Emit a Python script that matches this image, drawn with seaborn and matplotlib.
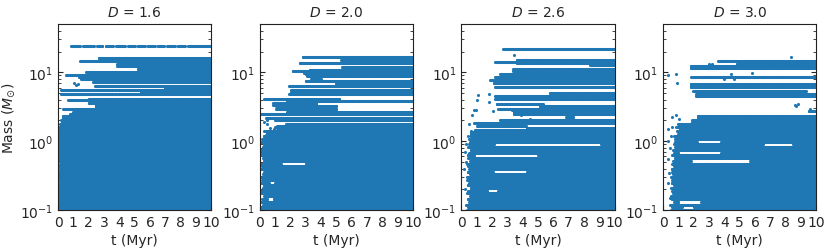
import numpy as np
import pandas as pd
import matplotlib
matplotlib.use("Agg")
import matplotlib.pyplot as plt
import seaborn as sns

# fractal dimension of each run (one panel per run)
panel_D = [1.6, 2.0, 2.6, 3.0]

# simulation snapshot times (Myr)
snap_times = np.round(np.arange(0, 10.0001, 0.05), 3)

# masses of the crowded low-mass stars (Msun), same ladder in every run
low_mass = [0.10, 0.11, 0.12, 0.13, 0.145, 0.16, 0.175, 0.19, 0.21, 0.23,
            0.25, 0.275, 0.30, 0.33, 0.36, 0.40, 0.43, 0.47, 0.52, 0.57,
            0.62, 0.68, 0.75, 0.82, 0.90, 0.98, 1.07, 1.17]

# formation time of each of those low-mass stars, per run
low_tform_16 = [0, 0, 0, 0.05, 0, 0, 0, 0, 0, 0, 0.1, 0, 0, 0, 0, 0.1,
                0, 0.15, 0, 0, 0, 0.05, 0, 0, 0, 0, 0.05, 0]
low_tform_20 = [0.1, 0.05, 0.2, 0.1, 0.15, 0.3, 0.1, 0.05, 0.2, 0.25, 0.1,
                0.15, 0.05, 0.2, 0.3, 0.1, 0.15, 0.1, 0.25, 0.2, 0.1, 0.15,
                0.05, 0.2, 0.3, 0.1, 0.15, 0.25]
low_tform_26 = [0.35, 0.45, 0.3, 0.5, 0.4, 0.55, 0.35, 0.45, 0.6, 0.4, 0.5,
                0.35, 0.45, 0.55, 0.4, 0.5, 0.45, 0.35, 0.55, 0.45, 0.4, 0.5,
                0.6, 0.45, 0.5, 0.55, 0.5, 0.6]
low_tform_30 = [0.5, 0.6, 0.45, 0.7, 0.55, 0.5, 0.65, 0.6, 0.5, 0.7, 0.55,
                0.6, 0.5, 0.65, 0.6, 0.55, 0.7, 0.6, 0.65, 0.75, 0.6, 0.7,
                0.65, 0.8, 0.7, 0.75, 0.8, 0.7]

# spans where a low-mass star is missing: (mass, from, to)
low_gaps_16 = []
low_gaps_20 = [(0.47, 1.4, 3.0), (0.25, 0.6, 1.0), (0.145, 0.5, 0.9)]
low_gaps_26 = [(0.90, 2.1, 9.1), (0.62, 0.85, 5.0), (0.36, 2.05, 4.3),
               (0.19, 1.7, 2.4)]
low_gaps_30 = [(0.98, 2.2, 3.8), (0.90, 6.5, 8.5), (0.68, 1.0, 3.8),
               (0.52, 1.8, 5.7), (0.13, 1.0, 2.5), (0.11, 1.2, 2.0)]

# remaining stars: (formation time, last snapshot, mass)
stars_16 = [
    (0.05, 10, 1.25), (0.05, 10, 1.33), (0.1, 10, 1.42), (0.15, 10, 1.5),
    (0.1, 10, 1.6), (0.2, 10, 1.7), (0.15, 10, 1.8), (0.25, 10, 1.9),
    (0.2, 10, 2.0), (0.35, 10, 2.1), (0.3, 10, 2.2), (0.3, 10, 2.35),
    (0.8, 10, 2.5), (1.0, 2.4, 2.62), (2.5, 10, 2.65), (2.5, 10, 2.8),
    (0.35, 10, 2.95), (2.5, 10, 3.1), (2.5, 10, 3.25), (2.5, 10, 3.4),
    (2.0, 10, 3.6), (0.63, 10, 3.95), (2.0, 10, 4.15), (0.2, 10, 4.85),
    (5.4, 10, 5.15), (0.2, 10, 5.5), (7.0, 10, 5.95), (2.37, 10, 6.4),
    (2.26, 10, 7.3), (1.5, 10, 7.9), (1.4, 10, 8.5), (0.52, 10, 9.0),
    (1.83, 10, 10.1), (5.2, 10, 11.2), (3.85, 10, 12.3), (3.85, 10, 13.0),
    (1.43, 10, 14.8), (2.65, 10, 15.9),
    # the most massive star drops out of a few snapshots
    (0.85, 1.45, 23.8), (1.65, 2.35, 23.8), (2.55, 2.9, 23.8),
    (3.1, 3.6, 23.8), (3.8, 4.35, 23.8), (4.55, 5.0, 23.8),
    (5.2, 5.65, 23.8), (5.85, 6.3, 23.8), (6.5, 6.9, 23.8),
    (7.1, 7.6, 23.8), (7.8, 8.3, 23.8), (8.5, 10, 23.8),
]
stars_20 = [
    (0.4, 10, 1.25), (0.5, 10, 1.33), (0.3, 10, 1.42), (2.7, 10, 1.5),
    (1.15, 2.7, 1.55), (2.7, 10, 1.6), (1.15, 2.7, 1.65), (2.7, 10, 1.7),
    (1.7, 10, 1.78), (1.0, 10, 2.0), (1.0, 10, 2.1), (0.4, 10, 2.2),
    (0.0, 10, 2.45), (1.8, 10, 2.63), (1.05, 5.0, 2.95), (1.05, 5.0, 3.2),
    (0.85, 3.7, 3.4), (0.85, 3.7, 3.6), (1.8, 10, 3.88), (0.3, 5.2, 4.15),
    (1.87, 10, 4.9), (2.05, 10, 5.2), (2.05, 10, 5.6), (1.87, 10, 6.27),
    (5.0, 10, 6.6), (5.0, 10, 6.95), (3.0, 10, 7.55), (3.35, 4.0, 8.1),
    (3.1, 10, 8.95), (3.0, 10, 9.4), (2.15, 10, 10.3), (3.25, 10, 10.9),
    (5.4, 10, 11.8), (2.6, 10, 13.6), (5.3, 10, 14.9), (2.8, 10, 16.5),
]
stars_26 = [
    (0.6, 10, 1.28), (0.63, 10, 1.38), (0.9, 10, 1.47), (4.3, 10, 1.56),
    (1.0, 4.2, 1.68), (0.85, 10, 1.82), (2.5, 10, 2.05), (6.85, 7.3, 2.25),
    (3.4, 10, 2.45), (3.4, 10, 2.62), (2.4, 10, 2.95), (5.1, 10, 3.25),
    (2.3, 5.3, 3.5), (2.2, 10, 4.1), (2.2, 10, 4.5), (5.75, 10, 5.07),
    (2.16, 10, 6.2), (2.1, 10, 7.0), (1.83, 10, 7.6), (2.2, 10, 8.5),
    (2.5, 10, 9.3), (3.35, 10, 10.5), (3.35, 10, 11.2), (8.37, 10, 12.6),
    (3.57, 10, 13.6), (2.16, 10, 14.1), (3.57, 10, 15.0), (2.66, 10, 22.0),
]
stars_30 = [
    (1.0, 10, 1.28), (0.9, 10, 1.4), (1.1, 10, 1.5), (0.85, 10, 1.62),
    (1.0, 10, 1.75), (1.9, 10, 1.9), (1.9, 10, 2.05), (2.24, 10, 2.2),
    (2.24, 10, 2.35), (9.5, 10, 2.7), (2.14, 10, 4.5), (2.14, 10, 4.9),
    (1.92, 9.3, 5.43), (1.77, 10, 6.05), (1.77, 2.5, 6.4), (6.4, 10, 6.4),
    (1.77, 10, 6.8), (1.85, 10, 8.67), (1.8, 10, 11.4), (1.8, 10, 12.2),
    (4.8, 10, 13.2), (3.59, 10, 14.8),
]

# stars seen in a single snapshot only
dots_t_16 = [1.05, 1.15, 1.3]
dots_m_16 = [6.9, 6.5, 6.7]
dots_t_20 = [2.9, 3.1, 0.3, 0.45, 0.5, 0.7, 1.0, 0.9, 0.6, 0.25, 1.3]
dots_m_20 = [9.6, 9.7, 1.9, 1.75, 2.0, 1.55, 1.6, 1.5, 0.95, 0.85, 0.9]
dots_t_26 = [3.45, 1.11, 1.0, 1.83, 1.78, 2.04, 0.85, 0.95, 0.7, 3.3, 3.9,
             4.5, 2.6, 0.5, 0.63, 0.4, 0.3, 0.25, 0.3, 0.2, 0.35, 0.25, 6.85]
dots_m_26 = [18.0, 4.75, 4.0, 4.87, 3.76, 2.72, 2.79, 2.79, 2.36, 2.85, 2.36,
             2.11, 2.0, 1.75, 1.4, 1.2, 0.9, 0.7, 0.5, 0.4, 0.3, 0.2, 1.25]
dots_t_30 = [8.33, 3.0, 3.2, 4.4, 5.8, 0.33, 0.87, 4.0, 4.65, 0.9, 8.6, 8.7,
             8.8, 9.6, 0.87, 1.05, 0.6, 0.55, 1.4, 0.35, 0.5, 0.3, 0.45, 0.35,
             0.4, 0.3, 0.45, 0.6]
dots_m_30 = [16.9, 13.2, 13.2, 9.5, 9.7, 9.2, 9.5, 8.0, 8.0, 7.0, 3.3, 3.2,
             3.45, 2.9, 2.36, 2.13, 2.25, 1.6, 1.65, 1.5, 1.2, 1.0, 0.8, 0.55,
             0.35, 0.25, 0.15, 0.12]

runs = [
    (low_tform_16, low_gaps_16, stars_16, dots_t_16, dots_m_16),
    (low_tform_20, low_gaps_20, stars_20, dots_t_20, dots_m_20),
    (low_tform_26, low_gaps_26, stars_26, dots_t_26, dots_m_26),
    (low_tform_30, low_gaps_30, stars_30, dots_t_30, dots_m_30),
]


def expand(low_tform, low_gaps, stars, dots_t, dots_m):
    # every star sits at its mass in every snapshot it is alive
    t, m = [], []
    for tf, mass in zip(low_tform, low_mass):
        keep = snap_times >= tf - 1e-9
        for gm, g0, g1 in low_gaps:
            if gm == mass:
                keep &= ~((snap_times > g0) & (snap_times < g1))
        t.extend(snap_times[keep])
        m.extend([mass] * int(keep.sum()))
    for t0, t1, mass in stars:
        sel = snap_times[(snap_times >= t0 - 1e-9) & (snap_times <= t1 + 1e-9)]
        t.extend(sel)
        m.extend([mass] * len(sel))
    t.extend(dots_t)
    m.extend(dots_m)
    return pd.DataFrame({'t': t, 'mass': m})


sns.set_style("ticks", {'xtick.direction': 'in', 'ytick.direction': 'in'})
plt.rcParams['font.family'] = ['DejaVu Sans']
plt.rcParams['font.size'] = 10

fig, axes = plt.subplots(1, 4, figsize=(8.3, 2.51), dpi=100)
fig.subplots_adjust(left=0.0699, right=0.9836, bottom=0.159, top=0.90,
                    wspace=0.316)

for ax, D, run in zip(axes, panel_D, runs):
    df = expand(*run)
    sns.scatterplot(data=df, x='t', y='mass', ax=ax, s=5, linewidth=0,
                    color='#1f77b4', legend=False, rasterized=True)
    ax.set_yscale('log')
    ax.set_ylim(0.1, 50)
    ax.set_xlim(0, 10)
    ax.set_xticks(range(0, 11))
    ax.tick_params(which='both', direction='in', right=True, labelsize=10)
    ax.tick_params(which='major', length=3.5, width=0.8)
    ax.tick_params(which='minor', length=2, width=0.6)
    ax.set_xlabel('t (Myr)', fontsize=10, labelpad=3)
    ax.set_ylabel('')
    ax.set_title(f'$D$ = {D}', fontsize=10)
    for sp in ax.spines.values():
        sp.set_linewidth(0.8)
        sp.set_color('#222222')

axes[0].set_ylabel(r'Mass ($M_{\odot}$)', fontsize=10)
axes[0].yaxis.set_label_coords(-0.27, 0.5)

plt.savefig('out.png', dpi=100)
